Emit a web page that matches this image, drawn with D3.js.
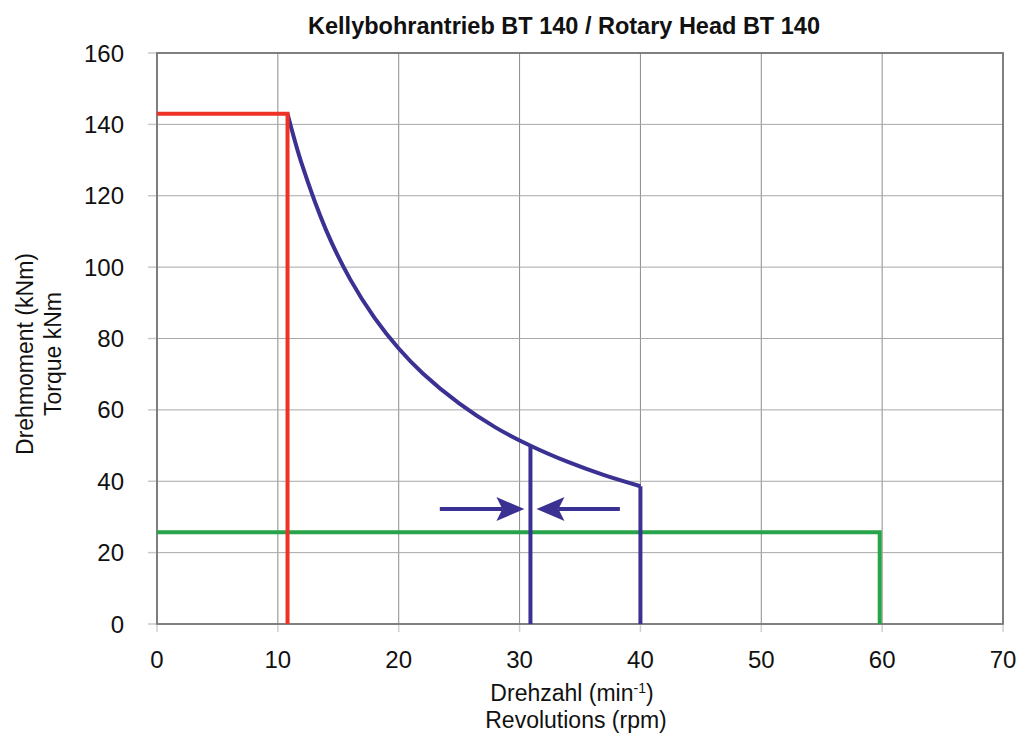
<!DOCTYPE html>
<html>
<head>
<meta charset="utf-8">
<script src="https://cdn.jsdelivr.net/npm/d3@7"></script>
<style>
  body { margin: 0; background: #fff; }
  text { font-family: "Liberation Sans", Arial, sans-serif; fill: #111; }
</style>
</head>
<body>
<svg id="chart" width="1021" height="736"></svg>
<script>
// values
var xTicks = [0, 10, 20, 30, 40, 50, 60, 70];
var yTicks = [0, 20, 40, 60, 80, 100, 120, 140, 160];

// red: max torque step
var redLine = [[0, 143], [10.8, 143], [10.8, 0]];
// blue: constant power curve
var blueCurve = [[10.8, 143], [12, 128.7], [14, 110.3], [16, 96.5], [18, 85.8], [20, 77.2],
                 [22, 70.2], [25, 61.8], [28, 55.1], [31, 49.8], [34, 45.4], [37, 41.7], [40, 38.6]];
var blueEnd = [[40, 38.6], [40, 0]];
var blueMid = [[30.9, 49.9], [30.9, 0]];
// arrows pointing at the mid line
var arrowLeft = [[23.4, 32.2], [30.4, 32.2]];
var arrowRight = [[38.3, 32.2], [31.4, 32.2]];
// green: continuous line
var greenLine = [[0, 25.7], [59.8, 25.7], [59.8, 0]];

var svg = d3.select("#chart");
var mLeft = 157, mRight = 1003, mTop = 53, mBottom = 624;

var x = d3.scaleLinear().domain([0, 70]).range([mLeft, mRight]);
var y = d3.scaleLinear().domain([0, 160]).range([mBottom, mTop]);

// grid
svg.append("g").selectAll("line")
  .data(xTicks).join("line")
  .attr("x1", d => x(d)).attr("x2", d => x(d))
  .attr("y1", mTop).attr("y2", mBottom)
  .attr("stroke", "#8c8c8c").attr("stroke-width", 1);
svg.append("g").selectAll("line")
  .data(yTicks).join("line")
  .attr("x1", mLeft).attr("x2", mRight)
  .attr("y1", d => y(d)).attr("y2", d => y(d))
  .attr("stroke", "#a8a8a8").attr("stroke-width", 1);
// short tick stubs outside, lighter
svg.append("g").selectAll("line")
  .data(xTicks).join("line")
  .attr("x1", d => x(d)).attr("x2", d => x(d))
  .attr("y1", mBottom + 1).attr("y2", mBottom + 8)
  .attr("stroke", "#d0d0d0").attr("stroke-width", 1.5);
svg.append("g").selectAll("line")
  .data(yTicks).join("line")
  .attr("x1", mLeft - 9).attr("x2", mLeft - 1)
  .attr("y1", d => y(d)).attr("y2", d => y(d))
  .attr("stroke", "#c8c8c8").attr("stroke-width", 1.5);

// frame
svg.append("rect")
  .attr("x", mLeft).attr("y", mTop)
  .attr("width", mRight - mLeft).attr("height", mBottom - mTop)
  .attr("fill", "none").attr("stroke", "#777").attr("stroke-width", 1.8);

// tick labels
svg.append("g").selectAll("text")
  .data(xTicks).join("text")
  .attr("x", d => x(d)).attr("y", 668)
  .attr("text-anchor", "middle")
  .style("font-size", "24px")
  .text(d => d);
svg.append("g").selectAll("text")
  .data(yTicks).join("text")
  .attr("x", 124).attr("y", d => y(d) + 8.5)
  .attr("text-anchor", "end")
  .style("font-size", "24px")
  .text(d => d);

var line = d3.line().x(d => x(d[0])).y(d => y(d[1]));
var curve = d3.line().x(d => x(d[0])).y(d => y(d[1])).curve(d3.curveCatmullRom.alpha(0.5));

var red = "#ee3226", blue = "#3b3192", green = "#27a449";

svg.append("path").attr("d", line(greenLine))
  .attr("fill", "none").attr("stroke", green).attr("stroke-width", 4);
svg.append("path").attr("d", curve(blueCurve))
  .attr("fill", "none").attr("stroke", blue).attr("stroke-width", 4);
svg.append("path").attr("d", line(blueEnd))
  .attr("fill", "none").attr("stroke", blue).attr("stroke-width", 4);
svg.append("path").attr("d", line(blueMid))
  .attr("fill", "none").attr("stroke", blue).attr("stroke-width", 4);
svg.append("path").attr("d", line(redLine))
  .attr("fill", "none").attr("stroke", red).attr("stroke-width", 4)
  .attr("stroke-linejoin", "miter");

// arrows
function arrow(pts) {
  var x0 = x(pts[0][0]), x1 = x(pts[1][0]), yy = y(pts[0][1]);
  var dir = x1 > x0 ? 1 : -1;
  var head = 28, half = 12, notch = 6;
  svg.append("line")
    .attr("x1", x0).attr("x2", x1 - dir * (head - notch))
    .attr("y1", yy).attr("y2", yy)
    .attr("stroke", blue).attr("stroke-width", 4);
  var p = d3.path();
  p.moveTo(x1, yy);
  p.lineTo(x1 - dir * head, yy - half);
  p.lineTo(x1 - dir * (head - notch), yy);
  p.lineTo(x1 - dir * head, yy + half);
  p.closePath();
  svg.append("path").attr("d", p.toString()).attr("fill", blue);
}
arrow(arrowLeft);
arrow(arrowRight);

// title
svg.append("text")
  .attr("x", 564).attr("y", 34)
  .attr("text-anchor", "middle")
  .style("font-size", "23.5px").style("font-weight", "bold")
  .text("Kellybohrantrieb BT 140 / Rotary Head BT 140");

// x axis title
var xt = svg.append("text")
  .attr("x", 572).attr("y", 701)
  .attr("text-anchor", "middle")
  .style("font-size", "23px");
xt.append("tspan").text("Drehzahl (min");
xt.append("tspan").attr("dy", -8).style("font-size", "14px").text("-1");
xt.append("tspan").attr("dy", 8).text(")");
svg.append("text")
  .attr("x", 576).attr("y", 728)
  .attr("text-anchor", "middle")
  .style("font-size", "23px")
  .text("Revolutions (rpm)");

// y axis title
svg.append("text")
  .attr("transform", "translate(33,354) rotate(-90)")
  .attr("text-anchor", "middle")
  .style("font-size", "23px")
  .text("Drehmoment (kNm)");
svg.append("text")
  .attr("transform", "translate(61,354) rotate(-90)")
  .attr("text-anchor", "middle")
  .style("font-size", "23px")
  .text("Torque kNm");
</script>
</body>
</html>
